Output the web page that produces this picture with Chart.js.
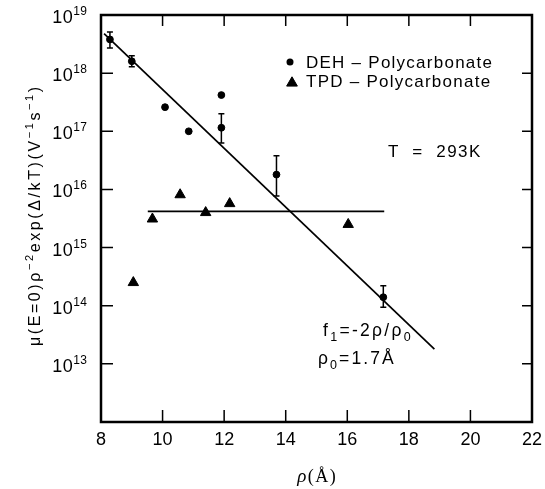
<!DOCTYPE html>
<html>
<head>
<meta charset="utf-8">
<script src="https://cdn.jsdelivr.net/npm/chart.js@4.4.1/dist/chart.umd.min.js"></script>
<style>
  html, body { margin: 0; padding: 0; background: #fff; }
  canvas { display: block; }
</style>
</head>
<body>
<canvas id="chart" width="545" height="489"></canvas>
<script>
// Hopping distance rho (Angstrom) and reduced zero-field mobility
const dehRho   = [8.29, 9.0, 10.08, 10.85, 11.91, 11.91, 13.7, 17.17];
const dehMu    = [3.8e18, 1.6e18, 2.6e17, 1.0e17, 4.2e17, 1.15e17, 1.8e16, 1.4e14];
const dehErrHi = [5.1e18, 2.0e18, null, null, null, 2.0e17, 3.8e16, 2.2e14];
const dehErrLo = [2.7e18, 1.29e18, null, null, null, 6.3e16, 7.7e15, 9.4e13];

const tpdRho = [9.05, 9.67, 10.57, 11.4, 12.18, 16.03];
const tpdMu  = [2.5e14, 3.1e15, 8.1e15, 4.0e15, 5.7e15, 2.5e15];

// Exponential fit for DEH (slope -2/rho0) and the flat TPD level
const fitRho  = [8.1, 18.83];
const fitMu   = [4.8e18, 1.8e13];
const flatRho = [9.52, 17.2];
const flatMu  = [4.2e15, 4.2e15];

// Axis ticks
const xTickValues = [8, 10, 12, 14, 16, 18, 20, 22];
const yTickExponents = [12, 13, 14, 15, 16, 17, 18, 19];
const yLabelExponents = [13, 14, 15, 16, 17, 18, 19];

const seriesNames = ['DEH \u2013 Polycarbonate', 'TPD \u2013 Polycarbonate'];
const tempLabel = 'T  =  293K';

const SANS = '"Liberation Sans", Arial, Helvetica, sans-serif';
const SERIF = '"Liberation Serif", "Times New Roman", serif';

const pts = (xs, ys) => xs.map((x, i) => ({ x: x, y: ys[i] }));

function runsWidth(ctx, runs, sp) {
  let w = 0, n = 0;
  runs.forEach(r => {
    ctx.font = r.font;
    for (const ch of r.t) { w += ctx.measureText(ch).width + sp; n++; }
  });
  return n ? w - sp : 0;
}
function drawRuns(ctx, runs, x, y, sp, align) {
  const w = runsWidth(ctx, runs, sp);
  let cx = x;
  if (align === 'center') cx = x - w / 2;
  else if (align === 'right') cx = x - w;
  ctx.textAlign = 'left';
  ctx.textBaseline = 'alphabetic';
  runs.forEach(r => {
    ctx.font = r.font;
    for (const ch of r.t) {
      ctx.fillText(ch, cx, y + (r.dy || 0));
      cx += ctx.measureText(ch).width + sp;
    }
  });
}

function drawTriangle(ctx, x, y, r) {
  ctx.beginPath();
  ctx.moveTo(x, y - r);
  ctx.lineTo(x + 0.866 * r, y + 0.5 * r);
  ctx.lineTo(x - 0.866 * r, y + 0.5 * r);
  ctx.closePath();
  ctx.fill();
  ctx.stroke();
}

const frameAndText = {
  id: 'frameAndText',
  afterDatasetsDraw(chart) {
    const ctx = chart.ctx;
    const xs = chart.scales.x, ys = chart.scales.y;
    const a = chart.chartArea;
    ctx.save();
    ctx.fillStyle = '#000';
    ctx.strokeStyle = '#000';

    // error bars on DEH points
    ctx.lineWidth = 1.5;
    dehRho.forEach((r, i) => {
      if (dehErrHi[i] == null) return;
      const px = xs.getPixelForValue(r);
      const y1 = ys.getPixelForValue(dehErrHi[i]);
      const y2 = ys.getPixelForValue(dehErrLo[i]);
      ctx.beginPath();
      ctx.moveTo(px, y1); ctx.lineTo(px, y2);
      ctx.moveTo(px - 3, y1); ctx.lineTo(px + 3, y1);
      ctx.moveTo(px - 3, y2); ctx.lineTo(px + 3, y2);
      ctx.stroke();
    });

    // frame
    ctx.lineWidth = 2.5;
    ctx.strokeRect(a.left, a.top, a.right - a.left, a.bottom - a.top);

    // inward ticks
    ctx.lineWidth = 1.5;
    ctx.beginPath();
    xTickValues.forEach(v => {
      const px = xs.getPixelForValue(v);
      if (px <= a.left + 1 || px >= a.right - 1) return;
      ctx.moveTo(px, a.bottom); ctx.lineTo(px, a.bottom - 12);
      ctx.moveTo(px, a.top); ctx.lineTo(px, a.top + 11);
    });
    yTickExponents.forEach(e => {
      const py = ys.getPixelForValue(Math.pow(10, e));
      if (py <= a.top + 1 || py >= a.bottom - 1) return;
      ctx.moveTo(a.left, py); ctx.lineTo(a.left + 12, py);
      ctx.moveTo(a.right, py); ctx.lineTo(a.right - 10, py);
    });
    ctx.stroke();

    // x tick labels
    ctx.font = '18px ' + SANS;
    ctx.textAlign = 'center';
    ctx.textBaseline = 'alphabetic';
    xTickValues.forEach(v => {
      ctx.fillText(String(v), xs.getPixelForValue(v), a.bottom + 23);
    });

    // y tick labels as powers of ten
    yLabelExponents.forEach(e => {
      const py = ys.getPixelForValue(Math.pow(10, e));
      drawRuns(ctx, [
        { t: '10', font: '18px ' + SANS, dy: 8 },
        { t: String(e), font: '12px ' + SANS, dy: 0 }
      ], 87, py, 0.5, 'right');
    });

    // y axis title
    ctx.save();
    ctx.translate(40, (a.top + a.bottom) / 2 - 2);
    ctx.rotate(-Math.PI / 2);
    const f16 = '16px ' + SANS, f11 = '11px ' + SANS;
    drawRuns(ctx, [
      { t: '\u03bc(E=0)\u03c1', font: f16 },
      { t: '\u22122', font: f11, dy: -7 },
      { t: 'exp(\u0394/kT)(V', font: f16 },
      { t: '\u22121', font: f11, dy: -7 },
      { t: 's', font: f16 },
      { t: '\u22121', font: f11, dy: -7 },
      { t: ')', font: f16 }
    ], 0, 0, 2.6, 'center');
    ctx.restore();

    // x axis title
    drawRuns(ctx, [
      { t: '\u03c1', font: 'italic 19px ' + SERIF },
      { t: '(\u00c5)', font: '18px ' + SERIF }
    ], (a.left + a.right) / 2, 482, 1.5, 'center');

    // legend
    ctx.lineWidth = 1;
    ctx.beginPath();
    ctx.arc(290, 62, 3.5, 0, Math.PI * 2);
    ctx.fill();
    drawTriangle(ctx, 292, 83, 6.2);
    drawRuns(ctx, [{ t: seriesNames[0], font: '17px ' + SANS }], 306, 67.5, 1.25, 'left');
    drawRuns(ctx, [{ t: seriesNames[1], font: '17px ' + SANS }], 306, 86.5, 1.25, 'left');

    // temperature
    drawRuns(ctx, [{ t: tempLabel, font: '17px ' + SANS }], 388, 157, 1.5, 'left');

    // fit annotation
    const f17 = '17.5px ' + SANS, f12 = '12.5px ' + SANS;
    drawRuns(ctx, [
      { t: 'f', font: f17 },
      { t: '1', font: f12, dy: 5 },
      { t: '=-2\u03c1/\u03c1', font: f17 },
      { t: '0', font: f12, dy: 5 }
    ], 323, 336, 2.3, 'left');
    drawRuns(ctx, [
      { t: '\u03c1', font: f17 },
      { t: '0', font: f12, dy: 5 },
      { t: '=1.7\u00c5', font: f17 }
    ], 318, 364, 2.1, 'left');

    ctx.restore();
  }
};

new Chart(document.getElementById('chart'), {
  type: 'scatter',
  data: {
    datasets: [
      {
        label: seriesNames[0],
        data: pts(dehRho, dehMu),
        pointStyle: 'circle',
        pointRadius: 3.4,
        borderWidth: 1,
        backgroundColor: '#000',
        borderColor: '#000'
      },
      {
        label: seriesNames[1],
        data: pts(tpdRho, tpdMu),
        pointStyle: 'triangle',
        pointRadius: 6,
        borderWidth: 1,
        backgroundColor: '#000',
        borderColor: '#000'
      },
      {
        label: 'fit',
        data: pts(fitRho, fitMu),
        showLine: true,
        pointRadius: 0,
        borderWidth: 1.7,
        borderColor: '#000'
      },
      {
        label: 'flat',
        data: pts(flatRho, flatMu),
        showLine: true,
        pointRadius: 0,
        borderWidth: 1.7,
        borderColor: '#000'
      }
    ]
  },
  options: {
    responsive: false,
    devicePixelRatio: 1,
    animation: false,
    layout: { padding: { left: 101, top: 15, right: 13, bottom: 67 } },
    plugins: { legend: { display: false }, tooltip: { enabled: false } },
    scales: {
      x: { type: 'linear', min: 8, max: 22, display: false },
      y: { type: 'logarithmic', min: 1e12, max: 1e19, display: false }
    }
  },
  plugins: [frameAndText]
});
</script>
</body>
</html>
